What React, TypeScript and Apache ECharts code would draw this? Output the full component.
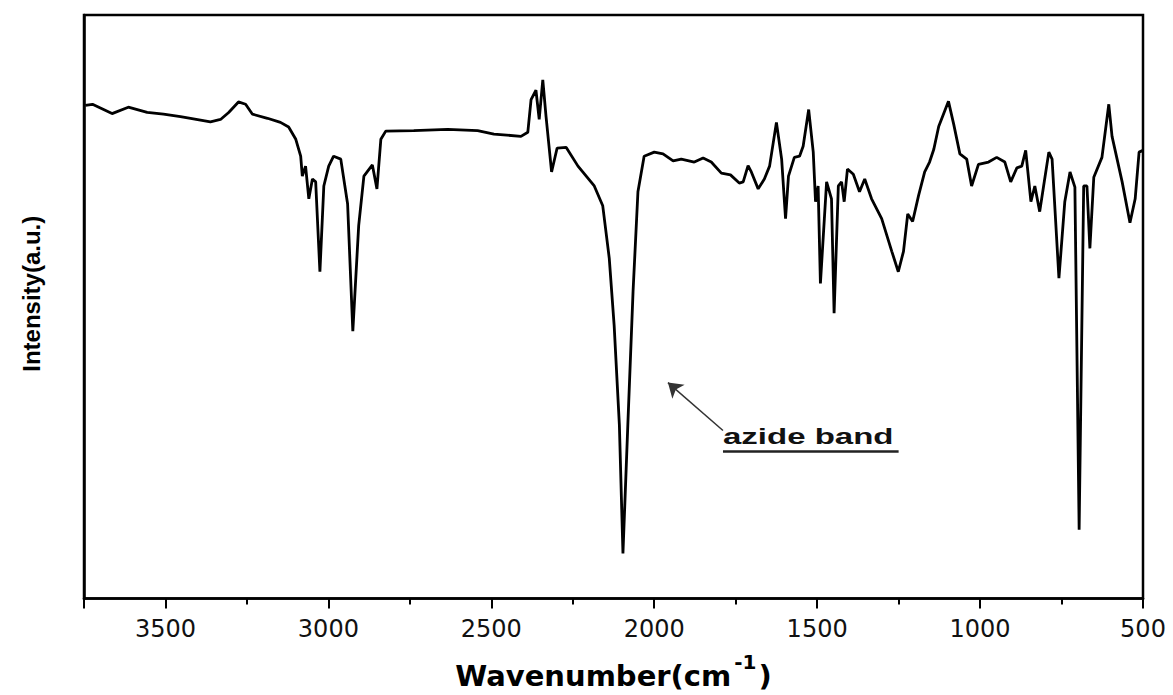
import React, { useEffect, useRef } from "react";
import * as echarts from "echarts";

// Wavenumber (cm^-1) of each traced point, high to low
const wavenumbers = [
  3746, 3724, 3664, 3614, 3556, 3506, 3454, 3423, 3362, 3331, 3306, 3276, 3254, 3233, 3187,
  3147, 3122, 3100, 3085, 3080, 3070, 3060, 3049, 3039, 3026, 3014, 2999, 2984, 2962, 2941,
  2925, 2907, 2891, 2865, 2851, 2839, 2824, 2738, 2634, 2542, 2492, 2409, 2388, 2378, 2363,
  2353, 2342, 2332, 2315, 2298, 2270, 2234, 2184, 2158, 2138, 2123, 2107, 2096, 2081, 2065,
  2050, 2031, 2000, 1973, 1942, 1917, 1877, 1850, 1825, 1794, 1766, 1739, 1727, 1712, 1702,
  1681, 1662, 1646, 1625, 1609, 1597, 1588, 1570, 1554, 1543, 1526, 1512, 1505, 1497, 1490,
  1471, 1456, 1448, 1435, 1425, 1417, 1407, 1389, 1370, 1354, 1333, 1302, 1271, 1251, 1235,
  1222, 1207, 1189, 1170, 1155, 1142, 1127, 1097, 1081, 1062, 1041, 1026, 1005, 974, 949,
  924, 906, 887, 872, 860, 844, 832, 817, 805, 789, 779, 758, 740, 724, 709,
  696, 682, 672, 663, 651, 626, 605, 595, 564, 540, 524, 512, 500,
];

// Intensity (a.u.) at each wavenumber above
const intensity = [
  84.5, 84.7, 83.1, 84.2, 83.3, 83.0, 82.6, 82.3, 81.7, 82.1, 83.3, 85.1, 84.7, 83.0, 82.3,
  81.6, 80.8, 78.7, 75.8, 72.4, 74.1, 68.5, 71.9, 71.4, 56.0, 70.7, 74.1, 75.8, 75.3, 67.6,
  45.8, 63.9, 72.4, 74.3, 70.2, 78.7, 80.1, 80.2, 80.4, 80.2, 79.6, 79.2, 79.9, 85.5, 87.1,
  82.1, 88.9, 82.6, 73.1, 77.2, 77.3, 74.1, 70.7, 67.3, 58.3, 46.8, 29.8, 7.7, 29.8, 52.6,
  69.7, 75.8, 76.5, 76.2, 75.0, 75.3, 74.8, 75.5, 74.8, 72.9, 72.6, 71.2, 71.4, 74.2, 73.1,
  70.2, 71.9, 74.1, 81.6, 75.3, 65.1, 72.4, 75.6, 75.8, 77.5, 83.8, 76.5, 68.0, 70.7, 54.0,
  71.4, 68.5, 48.9, 70.7, 71.4, 68.0, 73.6, 72.7, 69.7, 71.9, 68.5, 65.1, 59.5, 56.0, 59.5,
  65.9, 64.6, 69.0, 73.1, 74.8, 77.0, 80.9, 85.2, 81.3, 76.2, 75.3, 70.7, 74.4, 74.8, 75.6,
  74.8, 71.4, 73.8, 74.1, 76.8, 68.0, 70.7, 66.3, 70.7, 76.5, 75.3, 54.9, 68.0, 73.1, 70.5,
  11.8, 70.7, 70.7, 60.0, 72.2, 75.6, 84.7, 79.2, 71.4, 64.4, 68.5, 76.5, 76.8,
];

const majorTicks = [3500, 3000, 2500, 2000, 1500, 1000, 500];

// Annotation: arrow tail/tip and label anchor (data coordinates)
const arrowTail = [1789, 28.8];
const arrowTip = [1958, 37.0];
const labelAnchor = [1789, 27.8];
const underlineFrom = [1789, 25.2];
const underlineTo = [1250, 25.2];
const annotationText = "azide band";

export default function App() {
  const ref = useRef<HTMLDivElement>(null);

  useEffect(() => {
    document.body.style.margin = "0";
    if (!ref.current) return;
    const chart = echarts.init(ref.current, null, { renderer: "svg" });

    const data = wavenumbers.map((w, i) => [w, intensity[i]]);

    const option: any = {
      animation: false,
      backgroundColor: "#fff",
      grid: {
        left: 84,
        right: 30,
        top: 15,
        bottom: 93,
        show: true,
        borderColor: "#000",
        borderWidth: 2.5,
        backgroundColor: "transparent",
      },
      xAxis: [
        {
          type: "value",
          min: 500,
          max: 3750,
          interval: 500,
          inverse: true,
          name: "{a|Wavenumber(cm}{b|-1}{a|)}",
          nameLocation: "middle",
          nameGap: 53,
          nameTextStyle: {
            rich: {
              a: {
                fontFamily: "DejaVu Sans",
                fontWeight: "bold",
                fontSize: 29,
                lineHeight: 48,
                color: "#000",
              },
              b: {
                fontFamily: "DejaVu Sans",
                fontWeight: "bold",
                fontSize: 20,
                lineHeight: 19,
                verticalAlign: "top",
                color: "#000",
                padding: [0, 2, 0, 3],
              },
            },
          },
          axisLine: { show: true, lineStyle: { color: "#000", width: 2.5 } },
          axisTick: { show: true, inside: false, length: 10, lineStyle: { color: "#000", width: 2 } },
          axisLabel: {
            show: true,
            margin: 18,
            fontFamily: "DejaVu Sans",
            fontSize: 24,
            color: "#111",
            formatter: (v: number) => (majorTicks.includes(v) ? String(v) : ""),
          },
          splitLine: { show: false },
        },
        {
          type: "value",
          min: 500,
          max: 3750,
          interval: 250,
          inverse: true,
          position: "bottom",
          axisLine: { show: false },
          axisTick: { show: true, inside: false, length: 6, lineStyle: { color: "#000", width: 2 } },
          axisLabel: { show: false },
          splitLine: { show: false },
        },
      ],
      yAxis: {
        type: "value",
        min: 0,
        max: 100,
        name: "Intensity(a.u.)",
        nameLocation: "middle",
        nameGap: 41,
        nameTextStyle: {
          fontFamily: "Liberation Sans",
          fontWeight: "bold",
          fontSize: 24,
          color: "#000",
          padding: [0, 0, 0, 26],
        },
        axisLine: { show: true, lineStyle: { color: "#000", width: 2.5 } },
        axisTick: { show: false },
        axisLabel: { show: false },
        splitLine: { show: false },
      },
      series: [
        {
          type: "line",
          xAxisIndex: 0,
          yAxisIndex: 0,
          data,
          showSymbol: false,
          symbol: "none",
          smooth: false,
          lineStyle: { color: "#000", width: 2.8 },
          silent: true,
          markLine: {
            silent: true,
            animation: false,
            label: { show: false },
            emphasis: { disabled: true },
            data: [
              [
                {
                  coord: arrowTail,
                  symbol: "none",
                  lineStyle: { color: "#333", width: 1.5, type: "solid" },
                },
                { coord: arrowTip, symbol: "arrow", symbolSize: 14 },
              ],
              [
                {
                  coord: underlineFrom,
                  symbol: "none",
                  lineStyle: { color: "#222", width: 2.5, type: "solid" },
                },
                { coord: underlineTo, symbol: "none" },
              ],
            ],
          },
        },
      ],
    };

    chart.setOption(option);

    const p = chart.convertToPixel({ xAxisIndex: 0, yAxisIndex: 0 }, labelAnchor) as number[];
    chart.setOption({
      graphic: [
        {
          type: "text",
          x: p[0],
          y: p[1],
          scaleX: 1.5,
          silent: true,
          style: {
            text: annotationText,
            fontFamily: "Liberation Sans",
            fontWeight: "bold",
            fontSize: 22,
            fill: "#111",
            align: "left",
            verticalAlign: "middle",
          },
        },
      ],
    });

    return () => chart.dispose();
  }, []);

  return <div ref={ref} style={{ width: 1173, height: 695 }} />;
}
